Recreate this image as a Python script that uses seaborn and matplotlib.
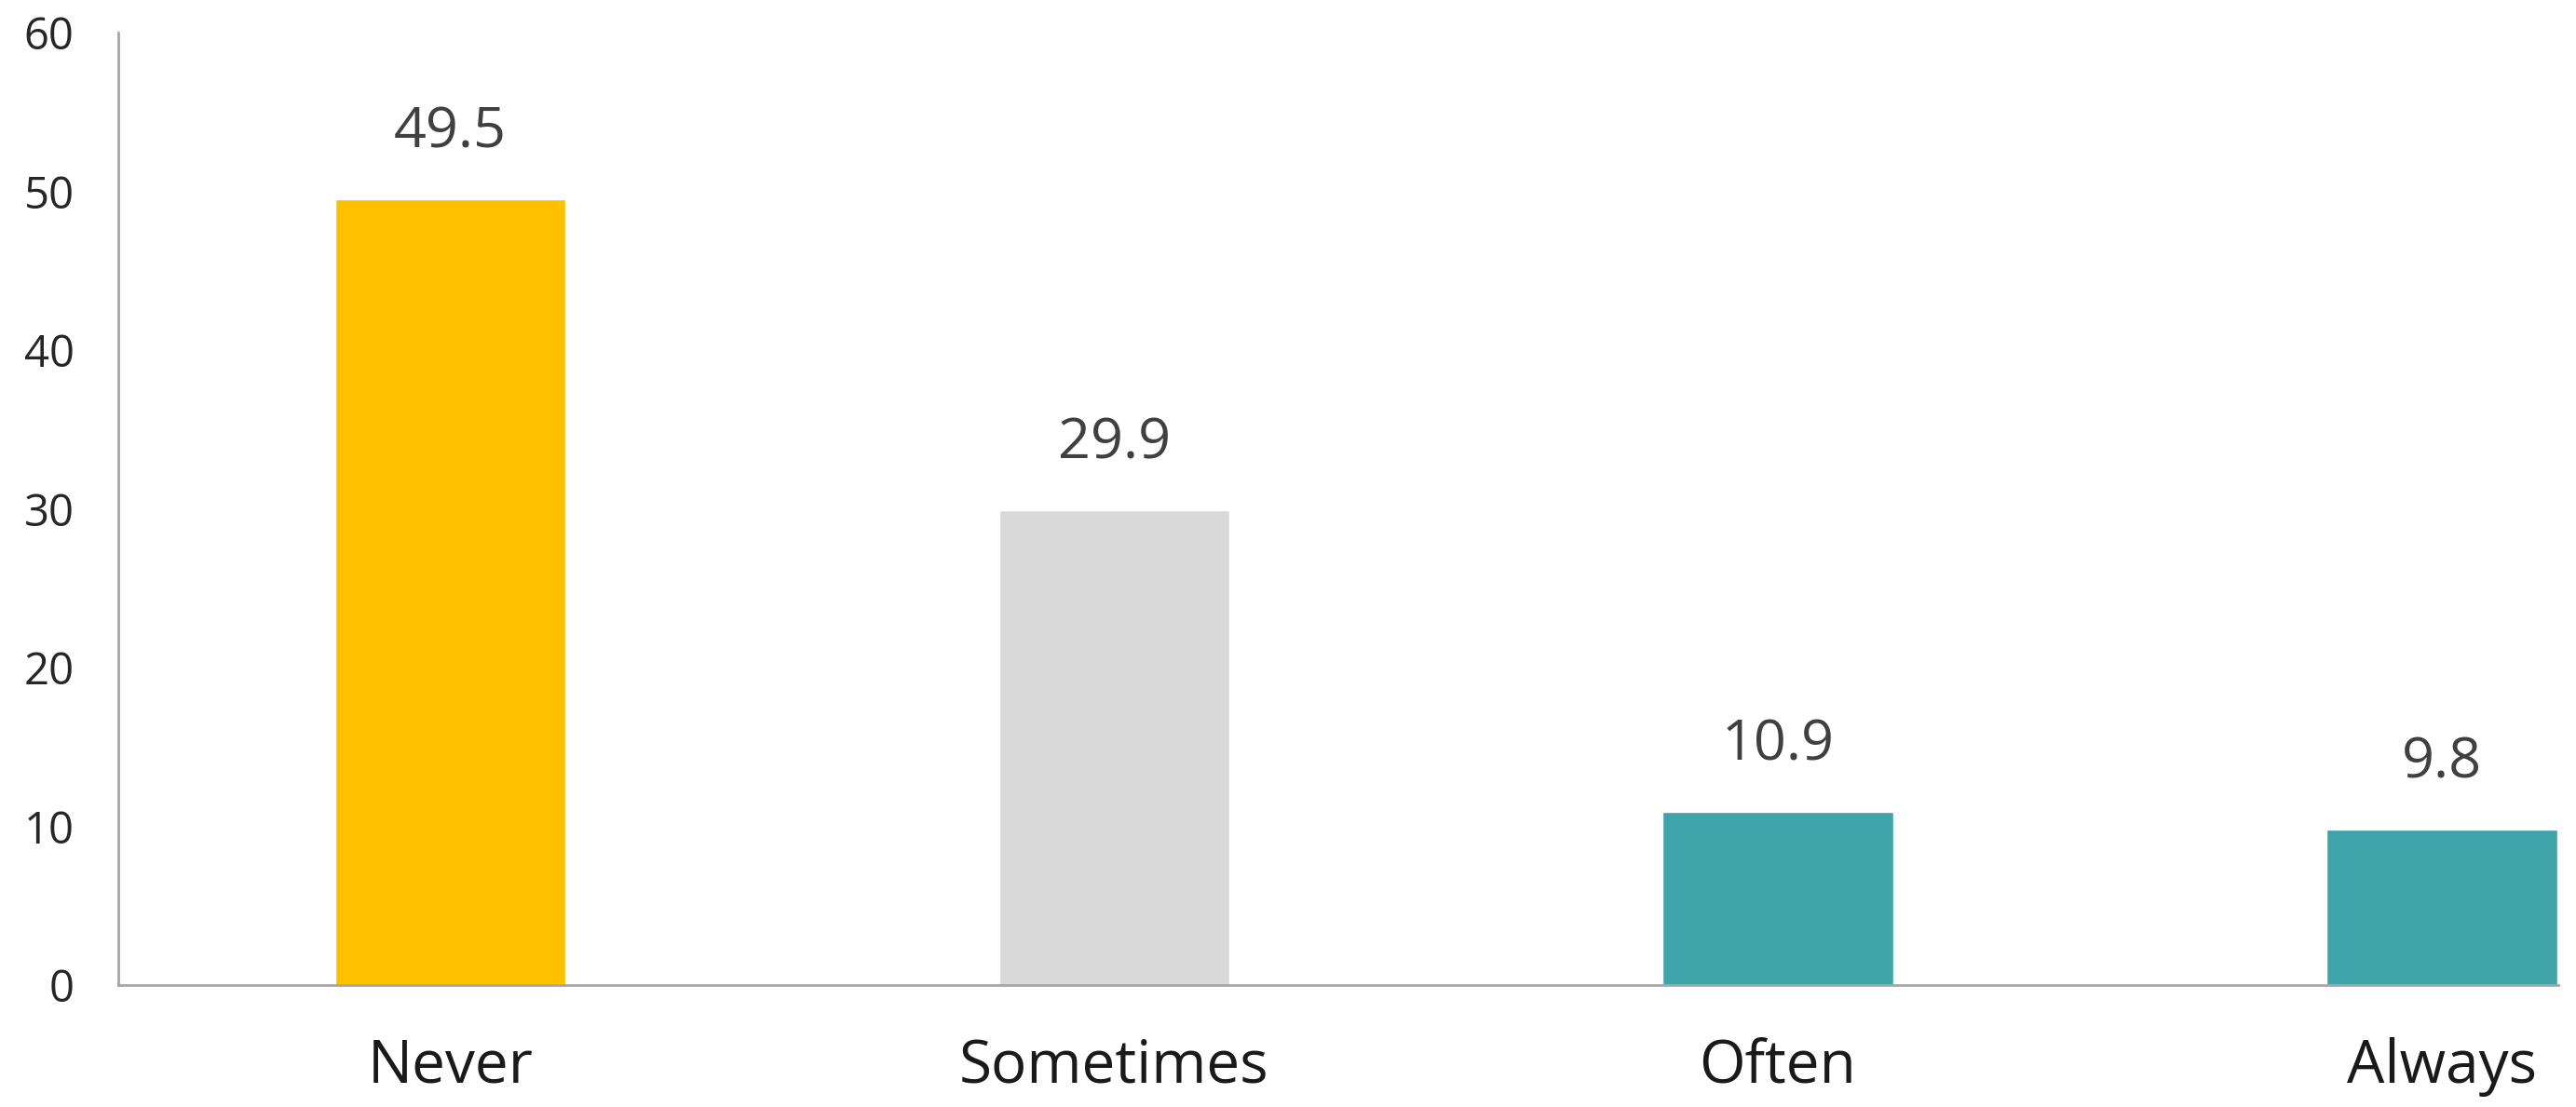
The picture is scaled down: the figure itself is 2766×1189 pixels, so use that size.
import matplotlib
matplotlib.use("Agg")
import matplotlib.pyplot as plt
import seaborn as sns
import pandas as pd

# data
categories = ["Never", "Sometimes", "Often", "Always"]
values = [49.5, 29.9, 10.9, 9.8]
bar_colors = ["#FFC000", "#D9D9D9", "#3FA3AA", "#3FA3AA"]
y_ticks = [0, 10, 20, 30, 40, 50, 60]

df = pd.DataFrame({"category": categories, "value": values})

sns.set_style("white")
plt.rcParams["font.family"] = ["Open Sans", "DejaVu Sans"]

fig = plt.figure(figsize=(27.66, 11.89), dpi=100)
ax = fig.add_axes([0.0459, 0.110, 0.9471, 0.8606])

sns.barplot(data=df, x="category", y="value", hue="category", palette=bar_colors,
            width=0.347, saturation=1, legend=False, ax=ax)

for c in ax.containers:
    ax.bar_label(c, fmt="%.1f", padding=30, fontsize=44, color="#404040")

ax.set_ylim(0, 60)
ax.set_xlim(-0.5, 3.175)
ax.set_yticks(y_ticks)
ax.set_xlabel("")
ax.set_ylabel("")

for s in ["top", "right"]:
    ax.spines[s].set_visible(False)
for s in ["left", "bottom"]:
    ax.spines[s].set_color("#A6A6A6")
    ax.spines[s].set_linewidth(2)

ax.tick_params(axis="y", direction="in", length=13, width=2, color="#A6A6A6",
               pad=34, labelsize=34, labelcolor="#262626")
ax.tick_params(axis="x", length=0, pad=40, labelsize=46, labelcolor="#1A1A1A")

fig.savefig("out.png", dpi=100)
